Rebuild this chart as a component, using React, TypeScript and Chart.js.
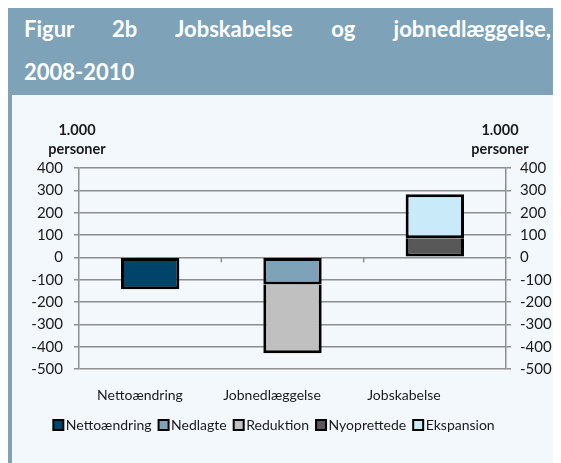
import { useEffect, useRef } from 'react';
import { Chart, registerables } from 'chart.js';

Chart.register(...registerables);

const titleLine1 = 'Figur 2b Jobskabelse og jobnedlæggelse,';
const titleLine2 = '2008-2010';
const categories = ['Nettoændring', 'Jobnedlæggelse', 'Jobskabelse'];
const seriesNames = ['Nettoændring', 'Nedlagte', 'Reduktion', 'Nyoprettede', 'Ekspansion'];
const nettoaendring = [-143, null, null];
const nedlagte = [null, -122, null];
const reduktion = [null, -308, null];
const nyoprettede = [null, null, 85];
const ekspansion = [null, null, 198];
const seriesColors = ['#00446b', '#7ea3b9', '#c0c0c0', '#585858', '#c8eaf9'];
const yMin = -500;
const yMax = 400;
const yStep = 100;
const axisTitle = ['1.000', 'personer'];

const FONT = 'Lato, "Open Sans", sans-serif';
const GRID = '#8e8e8e';
const TEXT = '#1a1a1a';

export default function App() {
  const ref = useRef<HTMLCanvasElement | null>(null);

  useEffect(() => {
    if (!ref.current) return;
    const full = { top: 3, right: 3, bottom: 3, left: 3 };
    const noTop = { top: 0, right: 3, bottom: 3, left: 3 };
    const values = [nettoaendring, nedlagte, reduktion, nyoprettede, ekspansion];
    const borders = [full, full, noTop, noTop, full];

    const extrasPlugin = {
      id: 'extras',
      afterDraw(chart: any) {
        const { ctx, chartArea } = chart;
        ctx.save();
        // axis unit titles
        ctx.fillStyle = TEXT;
        ctx.font = `bold 14.5px ${FONT}`;
        ctx.textAlign = 'center';
        ctx.textBaseline = 'middle';
        [chartArea.left - 2, chartArea.right - 6].forEach((x: number) => {
          ctx.fillText(axisTitle[0], x, chartArea.top - 38);
          ctx.fillText(axisTitle[1], x, chartArea.top - 19);
        });
        // category separator ticks on the zero line
        const xs = chart.scales.x;
        const y0 = chart.scales.y.getPixelForValue(0);
        ctx.strokeStyle = GRID;
        ctx.lineWidth = 1.5;
        for (let i = 0; i < categories.length - 1; i++) {
          const px = (xs.getPixelForValue(i) + xs.getPixelForValue(i + 1)) / 2;
          ctx.beginPath();
          ctx.moveTo(px, y0);
          ctx.lineTo(px, y0 + 5);
          ctx.stroke();
        }
        // legend
        const datasets = chart.data.datasets;
        ctx.font = `14px ${FONT}`;
        ctx.textAlign = 'left';
        const box = 10;
        const gap = 2.5;
        const itemGap = 7;
        const widths = datasets.map((d: any) => box + gap + ctx.measureText(d.label).width);
        const total = widths.reduce((a: number, b: number) => a + b, 0) + itemGap * (widths.length - 1);
        let lx = 262 - total / 2;
        const ly = 330;
        datasets.forEach((d: any, i: number) => {
          ctx.fillStyle = d.backgroundColor;
          ctx.fillRect(lx, ly - box / 2, box, box);
          ctx.strokeStyle = '#000';
          ctx.lineWidth = 2;
          ctx.strokeRect(lx, ly - box / 2, box, box);
          ctx.fillStyle = TEXT;
          ctx.fillText(d.label, lx + box + gap, ly + 0.5);
          lx += widths[i] + itemGap;
        });
        ctx.restore();
      },
    };

    const chart = new Chart(ref.current, {
      type: 'bar',
      data: {
        labels: categories,
        datasets: seriesNames.map((name, i) => ({
          label: name,
          data: values[i] as any,
          backgroundColor: seriesColors[i],
          borderColor: '#000',
          borderWidth: borders[i] as any,
          borderSkipped: false,
          barPercentage: 0.41,
          categoryPercentage: 1,
          xAxisID: 'x',
          yAxisID: 'y',
        })),
      },
      options: {
        animation: false,
        responsive: true,
        maintainAspectRatio: false,
        layout: { padding: { top: 73, left: 0, right: 0, bottom: 0 } },
        plugins: {
          legend: { display: false },
          tooltip: { enabled: false },
        },
        scales: {
          x: { type: 'category', display: false, stacked: true },
          xl: {
            type: 'linear',
            position: 'bottom',
            offset: false,
            min: -0.462,
            max: 2.773,
            afterBuildTicks: (axis: any) => {
              axis.ticks = categories.map((_, i) => ({ value: i }));
            },
            afterFit: (axis: any) => {
              axis.height = 94;
            },
            grid: { display: false, offset: false },
            border: { display: false },
            ticks: {
              font: { family: FONT, size: 14 },
              color: TEXT,
              padding: 10,
              maxRotation: 0,
              autoSkip: false,
              callback: (v: any) => categories[v] ?? '',
            },
          },
          y: {
            type: 'linear',
            position: 'left',
            stacked: true,
            min: yMin,
            max: yMax,
            afterFit: (axis: any) => {
              axis.width = 67;
            },
            grid: { color: GRID, lineWidth: 1.5, tickLength: 5 },
            border: { display: true, color: GRID, width: 1.5 },
            ticks: {
              stepSize: yStep,
              font: { family: FONT, size: 15 },
              color: TEXT,
              padding: 11,
            },
          },
          y2: {
            type: 'linear',
            position: 'right',
            min: yMin,
            max: yMax,
            afterFit: (axis: any) => {
              axis.width = 53;
            },
            grid: { drawOnChartArea: false, color: GRID, lineWidth: 1.5, tickLength: 5 },
            border: { display: true, color: GRID, width: 1.5 },
            ticks: {
              stepSize: yStep,
              font: { family: FONT, size: 15 },
              color: TEXT,
              padding: 9,
            },
          },
        },
      },
      plugins: [extrasPlugin],
    } as any);
    return () => chart.destroy();
  }, []);

  return (
    <div style={{ width: 551, marginTop: -1, background: '#f3f8fd' }}>
      <div
        style={{
          background: '#7ea3b9',
          color: '#fff',
          fontFamily: FONT,
          fontWeight: 700,
          fontSize: 22,
          lineHeight: '43px',
          height: 88,
          boxSizing: 'border-box',
          padding: '0 8px 0 16px',
        }}
      >
        <div style={{ textAlign: 'justify', textAlignLast: 'justify' as any }}>{titleLine1}</div>
        <div>{titleLine2}</div>
      </div>
      <div style={{ borderLeft: '4px solid #7ea3b9', width: 547, height: 368, position: 'relative' }}>
        <canvas ref={ref} />
      </div>
    </div>
  );
}
